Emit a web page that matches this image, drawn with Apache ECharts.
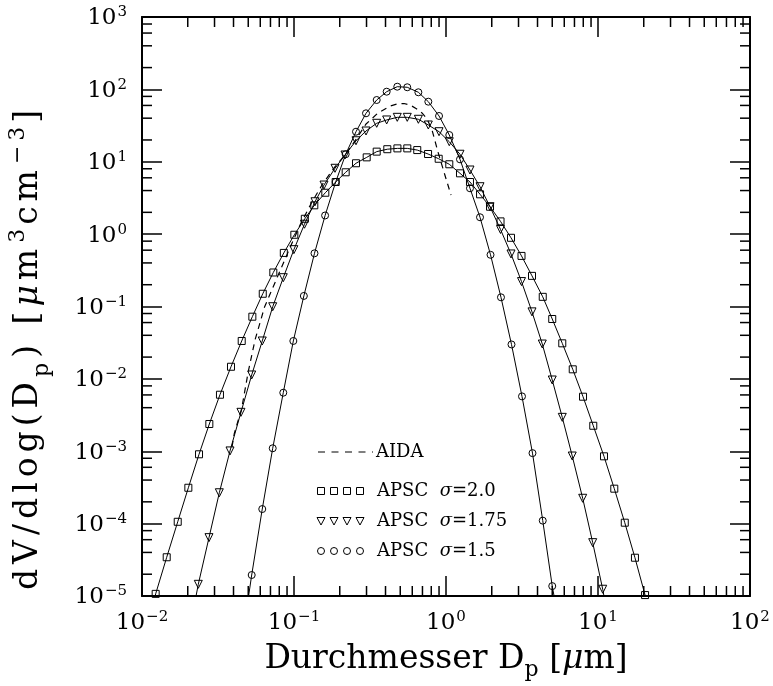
<!DOCTYPE html>
<html><head><meta charset="utf-8">
<script src="https://cdn.jsdelivr.net/npm/echarts@6/dist/echarts.min.js"></script>
<style>html,body{margin:0;padding:0;background:#fff}#c{width:773px;height:686px}</style>
</head><body><div id="c"></div>
<script>
// ---- data ----
// APSC sigma=2.0 (squares)
const sqX = [0.01047, 0.0123, 0.01454, 0.01718, 0.02018, 0.02372, 0.02773, 0.03258, 0.0385, 0.04529, 0.05321, 0.0623, 0.0731, 0.0857, 0.1005, 0.1178, 0.1360, 0.1607, 0.188, 0.2188, 0.2558, 0.3008, 0.350, 0.411, 0.479, 0.5565, 0.647, 0.762, 0.895, 1.051, 1.236, 1.438, 1.675, 1.948, 2.284, 2.677, 3.139, 3.680, 4.33, 5.00, 5.82, 6.82, 7.97, 9.31, 10.95, 12.8, 15.0, 17.5, 20.4, 23.9];
const sqY = [3e-6, 1.07e-5, 3.43e-5, 1.06e-4, 3.13e-4, 9.08e-4, 2.38e-3, 6.04e-3, 0.0147, 0.0334, 0.0723, 0.150, 0.295, 0.55, 0.98, 1.63, 2.50, 3.73, 5.25, 7.15, 9.53, 11.5, 13.8, 14.9, 15.3, 15.3, 14.5, 12.8, 11.0, 9.23, 6.92, 5.25, 3.55, 2.39, 1.50, 0.89, 0.50, 0.265, 0.136, 0.0672, 0.0310, 0.01355, 5.67e-3, 2.25e-3, 8.51e-4, 3.04e-4, 1.03e-4, 3.38e-5, 1.03e-5, 3e-6];
// APSC sigma=1.75 (triangles)
const triX = [0.0200, 0.02346, 0.02759, 0.03226, 0.03793, 0.04477, 0.05268, 0.06183, 0.07244, 0.0850, 0.0998, 0.1172, 0.1374, 0.1575, 0.1861, 0.2165, 0.2558, 0.2977, 0.350, 0.407, 0.478, 0.556, 0.658, 0.765, 0.900, 1.051, 1.236, 1.438, 1.674, 1.948, 2.284, 2.677, 3.139, 3.680, 4.30, 5.00, 5.82, 6.77, 7.93, 9.23, 10.74, 12.5];
const triY = [2.5e-6, 1.45e-5, 6.40e-5, 2.67e-4, 1.01e-3, 3.45e-3, 0.01132, 0.0334, 0.0993, 0.25, 0.61, 1.37, 2.8, 4.77, 8.12, 12.4, 19.5, 26.6, 34.0, 37.8, 41.1, 41.1, 38.6, 32.2, 26.0, 18.9, 12.7, 7.69, 4.52, 2.39, 1.16, 0.532, 0.221, 0.0843, 0.0303, 9.65e-3, 2.94e-3, 8.59e-4, 2.24e-4, 5.46e-5, 1.24e-5, 2.2e-6];
// APSC sigma=1.5 (circles)
const ciX = [0.0449, 0.05268, 0.06183, 0.07244, 0.0850, 0.0990, 0.1161, 0.1364, 0.1602, 0.188, 0.2188, 0.2558, 0.2977, 0.350, 0.407, 0.478, 0.556, 0.658, 0.765, 0.900, 1.051, 1.236, 1.438, 1.674, 1.963, 2.300, 2.697, 3.162, 3.707, 4.33, 5.00, 5.86];
const ciY = [2e-6, 1.95e-5, 1.59e-4, 1.10e-3, 6.44e-3, 0.0334, 0.140, 0.543, 1.81, 5.25, 12.7, 26.0, 46.7, 71.3, 92.9, 108.9, 106.9, 91.2, 67.6, 42.9, 23.4, 10.8, 4.30, 1.71, 0.518, 0.134, 0.0299, 5.73e-3, 9.42e-4, 1.10e-4, 1.37e-5, 2.2e-6];
// AIDA (dashed)
const aidaX = [0.0391, 0.0405, 0.0453, 0.0500, 0.0554, 0.0640, 0.0773, 0.0927, 0.1104, 0.1313, 0.1528, 0.1833, 0.2166, 0.252, 0.298, 0.357, 0.429, 0.477, 0.530, 0.580, 0.635, 0.695, 0.750, 0.809, 0.886, 0.970, 1.079];
const aidaY = [1.15e-3, 1.77e-3, 3.92e-3, 0.01256, 0.0344, 0.0984, 0.248, 0.604, 1.38, 2.78, 4.77, 8.2, 12.4, 19.4, 33.3, 47.2, 58.9, 62.8, 63.8, 60.8, 54.5, 47.2, 39.0, 27.5, 13.6, 7.2, 3.47];

// ---- axes / tick labels ----
const xTickExp = [-2, -1, 0, 1, 2];
const yTickExp = [-5, -4, -3, -2, -1, 0, 1, 2, 3];
const xMinorMult = [2, 3, 4, 5, 6, 7, 8, 9];
const yMinorMult = [2, 4, 6, 8];
const legendNames = ['AIDA', 'APSC σ=2.0', 'APSC σ=1.75', 'APSC σ=1.5'];
// y title pieces: [style, text]
const yTitleParts = [['a', 'dV/dlog(D'], ['p', 'p'], ['a', ') ['], ['m', 'μ'], ['a', 'm'], ['s', '3'], ['a', 'cm'], ['s', '\u22123'], ['a', ']']];

const XMIN = Math.pow(10, xTickExp[0]), XMAX = Math.pow(10, xTickExp[xTickExp.length - 1]);
const YMIN = Math.pow(10, yTickExp[0]), YMAX = Math.pow(10, yTickExp[yTickExp.length - 1]);
const FONT = 'DejaVu Serif';

function pts(xs, ys) {
  return xs.map((x, i) => {
    const it = { value: [x, ys[i]] };
    if (ys[i] < YMIN) it.symbol = 'none';
    return it;
  });
}
const xMinor = [], yMinor = [];
for (let i = 0; i < xTickExp.length - 1; i++) xMinorMult.forEach(m => xMinor.push([m * Math.pow(10, xTickExp[i]), YMIN]));
for (let i = 0; i < yTickExp.length - 1; i++) yMinorMult.forEach(m => yMinor.push([XMIN, m * Math.pow(10, yTickExp[i])]));

function expLabel(v) {
  const e = Math.round(Math.log10(v));
  return '{b|10}{s|' + (e < 0 ? '\u2212' + (-e) : e) + '}';
}
const tickRich = {
  b: { fontFamily: FONT, fontSize: 23, lineHeight: 26, verticalAlign: 'bottom', color: '#000' },
  s: { fontFamily: FONT, fontSize: 15, lineHeight: 15, verticalAlign: 'bottom', padding: [0, 0, 10, 1], color: '#000' }
};
const axisLine = { show: true, lineStyle: { color: '#000', width: 2 } };
const majTick = { show: true, inside: true, length: 20, lineStyle: { color: '#000', width: 1.5 } };

const chart = echarts.init(document.getElementById('c'), null, { renderer: 'canvas' });
const tickStyle = { stroke: '#000', lineWidth: 1.5 };
const option = {
  animation: false,
  backgroundColor: '#fff',
  grid: { left: 142, right: 23, top: 17, bottom: 90, containLabel: false, outerBoundsMode: 'none' },
  xAxis: [
    { type: 'log', logBase: 10, min: XMIN, max: XMAX, position: 'bottom', axisLine, axisTick: majTick,
      splitLine: { show: false }, minorTick: { show: false },
      axisLabel: { formatter: expLabel, rich: tickRich, margin: 13 },
      name: '{a|Durchmesser D}{p|p}{a| [}{m|μ}{a|m]}', nameLocation: 'middle', nameGap: 47,
      nameTextStyle: { rich: {
        a: { fontFamily: FONT, fontSize: 33, color: '#000', verticalAlign: 'bottom', padding: [0, 0, 5, 0] },
        p: { fontFamily: FONT, fontSize: 22, color: '#000', verticalAlign: 'bottom' },
        m: { fontFamily: FONT, fontSize: 33, fontStyle: 'italic', color: '#000', verticalAlign: 'bottom', padding: [0, 0, 5, 0] }
      } } },
    { type: 'log', logBase: 10, min: XMIN, max: XMAX, position: 'top', axisLine, axisTick: majTick,
      splitLine: { show: false }, axisLabel: { show: false } }
  ],
  yAxis: [
    { type: 'log', logBase: 10, min: YMIN, max: YMAX, position: 'left', axisLine, axisTick: majTick,
      splitLine: { show: false }, minorTick: { show: false },
      axisLabel: { formatter: expLabel, rich: tickRich, margin: 15 } },
    { type: 'log', logBase: 10, min: YMIN, max: YMAX, position: 'right', axisLine, axisTick: majTick,
      splitLine: { show: false }, axisLabel: { show: false } }
  ],
  series: [
    { name: legendNames[0], type: 'line', data: pts(aidaX, aidaY), showSymbol: false, symbol: 'none', clip: true,
      lineStyle: { color: '#000', width: 1.2, type: [6, 5] }, z: 3 },
    { name: legendNames[1], type: 'line', data: pts(sqX, sqY), symbol: 'rect', symbolSize: 7, clip: true,
      lineStyle: { color: '#000', width: 1 }, itemStyle: { color: 'rgba(255,255,255,0)', borderColor: '#000', borderWidth: 1 } },
    { name: legendNames[2], type: 'line', data: pts(triX, triY), symbol: 'triangle', symbolRotate: 180, symbolSize: 8, clip: true,
      lineStyle: { color: '#000', width: 1 }, itemStyle: { color: 'rgba(255,255,255,0)', borderColor: '#000', borderWidth: 1 } },
    { name: legendNames[3], type: 'line', data: pts(ciX, ciY), symbol: 'circle', symbolSize: 7, clip: true,
      lineStyle: { color: '#000', width: 1 }, itemStyle: { color: 'rgba(255,255,255,0)', borderColor: '#000', borderWidth: 1 } },
    { type: 'custom', silent: true, data: xMinor, encode: { x: 0, y: 1 }, clip: false, z: 5,
      renderItem: function (params, api) {
        const v = api.value(0);
        const b = api.coord([v, YMIN]), t = api.coord([v, YMAX]);
        return { type: 'group', children: [
          { type: 'line', shape: { x1: b[0], y1: b[1], x2: b[0], y2: b[1] - 10 }, style: tickStyle },
          { type: 'line', shape: { x1: t[0], y1: t[1], x2: t[0], y2: t[1] + 10 }, style: tickStyle } ] };
      } },
    { type: 'custom', silent: true, data: yMinor, encode: { x: 0, y: 1 }, clip: false, z: 5,
      renderItem: function (params, api) {
        const v = api.value(1);
        const l = api.coord([XMIN, v]), r = api.coord([XMAX, v]);
        return { type: 'group', children: [
          { type: 'line', shape: { x1: l[0], y1: l[1], x2: l[0] + 10, y2: l[1] }, style: tickStyle },
          { type: 'line', shape: { x1: r[0], y1: r[1], x2: r[0] - 10, y2: r[1] }, style: tickStyle } ] };
      } }
  ],
  graphic: []
};

// y-axis title (rotated), with wide letter spacing like the reference font
const yTitleText = yTitleParts.map(([st, str]) => Array.from(str).map(ch => '{' + st + '|' + ch + '}').join('')).join('');
option.graphic.push({
  type: 'text', x: 53, y: 590, rotation: Math.PI / 2, silent: true,
  style: {
    text: yTitleText,
    align: 'left', verticalAlign: 'bottom',
    rich: {
      a: { fontFamily: FONT, fontSize: 33, fill: '#000', verticalAlign: 'bottom', padding: [0, 5, 8, 0] },
      m: { fontFamily: FONT, fontSize: 33, fontStyle: 'italic', fill: '#000', verticalAlign: 'bottom', padding: [0, 5, 8, 0] },
      p: { fontFamily: FONT, fontSize: 22, fill: '#000', verticalAlign: 'bottom', padding: [0, 5, 0, 0] },
      s: { fontFamily: FONT, fontSize: 22, fill: '#000', verticalAlign: 'bottom', padding: [0, 4, 24, 1] }
    }
  }
});

// legend (drawn as graphic)
const legY = [452, 491, 521, 551];
const legSymX = [321, 334, 347, 360];
const legTextX = 377;
const legStroke = { stroke: '#000', fill: 'none', lineWidth: 1 };
option.graphic.push({ type: 'line', silent: true, shape: { x1: 318, y1: legY[0], x2: 373, y2: legY[0] },
  style: { stroke: '#000', lineWidth: 1.2, lineDash: [7, 6.5] } });
legSymX.forEach(x => {
  option.graphic.push({ type: 'rect', silent: true, shape: { x: x - 3.5, y: legY[1] - 3.5, width: 7, height: 7 }, style: legStroke });
  option.graphic.push({ type: 'polygon', silent: true, shape: { points: [[x - 4, legY[2] - 3.5], [x + 4, legY[2] - 3.5], [x, legY[2] + 4]] }, style: legStroke });
  option.graphic.push({ type: 'circle', silent: true, shape: { cx: x, cy: legY[3], r: 3.5 }, style: legStroke });
});
const legRich = {
  n: { fontFamily: FONT, fontSize: 18, fill: '#000' },
  i: { fontFamily: FONT, fontSize: 18, fontStyle: 'italic', fill: '#000' }
};
const legText = [
  '{n|AIDA}',
  '{n|APSC  }{i|σ}{n|=2.0}',
  '{n|APSC  }{i|σ}{n|=1.75}',
  '{n|APSC  }{i|σ}{n|=1.5}'
];
legText.forEach((t, k) => {
  option.graphic.push({ type: 'text', silent: true, x: legTextX - (k === 0 ? 1 : 0), y: legY[k],
    style: { text: t, rich: legRich, align: 'left', verticalAlign: 'middle' } });
});

chart.setOption(option);
</script></body></html>
